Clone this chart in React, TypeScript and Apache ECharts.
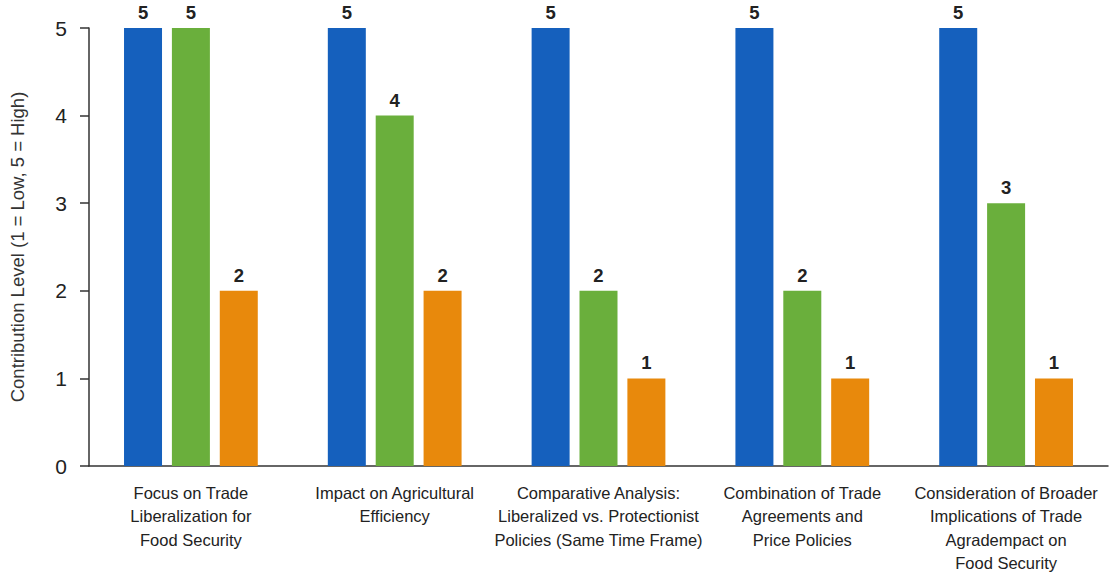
import React, { useEffect, useRef } from "react";
import * as echarts from "echarts";

const categories = [
  "Focus on Trade\nLiberalization for\nFood Security",
  "Impact on Agricultural\nEfficiency",
  "Comparative Analysis:\nLiberalized vs. Protectionist\nPolicies (Same Time Frame)",
  "Combination of Trade\nAgreements and\nPrice Policies",
  "Consideration of Broader\nImplications of Trade\nAgradempact on\nFood Security",
];
const blueValues = [5, 5, 5, 5, 5];
const greenValues = [5, 4, 2, 2, 3];
const orangeValues = [2, 2, 1, 1, 1];
const yTicks = [0, 1, 2, 3, 4, 5];

export default function App() {
  const ref = useRef<HTMLDivElement>(null);
  useEffect(() => {
    document.body.style.margin = "0";
    if (!ref.current) return;
    const chart = echarts.init(ref.current, null, { renderer: "svg" });
    const font = "'Liberation Sans', Arial, sans-serif";
    const label = {
      show: true,
      position: "top",
      distance: 6,
      fontSize: 18.5,
      fontWeight: "bold",
      color: "#222",
      fontFamily: font,
    };
    const mk = (name: string, data: number[], color: string) => ({
      name,
      type: "bar",
      data,
      barWidth: 38,
      barGap: "26%",
      itemStyle: { color },
      label,
    });
    chart.setOption({
      animation: false,
      backgroundColor: "#fff",
      textStyle: { fontFamily: font },
      grid: { left: 82, right: 2, top: 28, bottom: 107, containLabel: false },
      xAxis: {
        type: "category",
        data: categories,
        axisTick: { show: false },
        axisLine: { show: true, lineStyle: { color: "#333", width: 1.5 } },
        axisLabel: {
          interval: 0,
          fontSize: 16.5,
          lineHeight: 23.5,
          color: "#222",
          margin: 15,
          fontFamily: font,
        },
      },
      yAxis: {
        type: "value",
        min: yTicks[0],
        max: yTicks[yTicks.length - 1],
        interval: 1,
        name: "Contribution Level (1 = Low, 5 = High)",
        nameLocation: "middle",
        nameGap: 62,
        nameTextStyle: { fontSize: 18.5, color: "#333", fontFamily: font },
        splitLine: { show: false },
        axisLine: { show: true, lineStyle: { color: "#333", width: 1.5 } },
        axisTick: { show: true, length: 9, lineStyle: { color: "#333", width: 1.5 } },
        axisLabel: { fontSize: 21, color: "#222", margin: 22, fontFamily: font },
      },
      series: [
        mk("Blue", blueValues, "#1560BD"),
        mk("Green", greenValues, "#6AAF3C"),
        mk("Orange", orangeValues, "#E8890C"),
      ],
    });
    return () => chart.dispose();
  }, []);
  return <div ref={ref} style={{ width: 1110, height: 575 }} />;
}
